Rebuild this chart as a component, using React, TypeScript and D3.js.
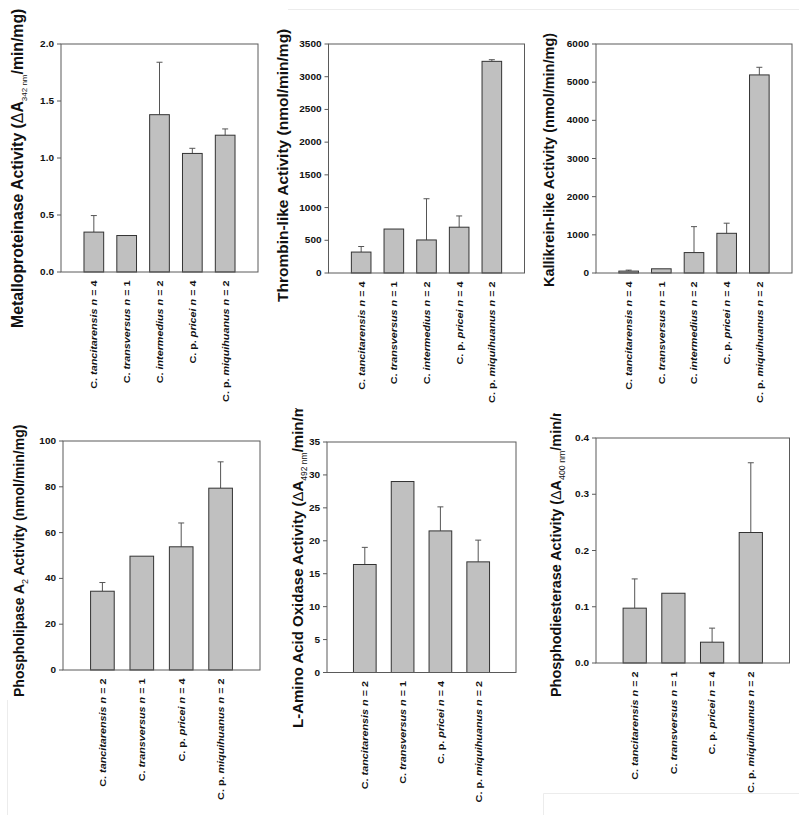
import React from "react";
import * as d3 from "d3";

// ---------- data ----------
const speciesTop = ["C. tancitarensis", "C. transversus", "C. intermedius", "C. p. pricei", "C. p. miquihuanus"];
const nTop = [4, 1, 2, 4, 2];
const speciesBottom = ["C. tancitarensis", "C. transversus", "C. p. pricei", "C. p. miquihuanus"];
const nBottom = [2, 1, 4, 2];

const mpMeans = [0.35, 0.32, 1.38, 1.04, 1.2];
const mpErr = [0.145, 0, 0.46, 0.045, 0.055];
const mpTicks = [0, 0.5, 1.0, 1.5, 2.0];

const thrMeans = [320, 672, 505, 700, 3235];
const thrErr = [85, 0, 630, 172, 25];
const thrTicks = [0, 500, 1000, 1500, 2000, 2500, 3000, 3500];

const kalMeans = [50, 110, 535, 1040, 5190];
const kalErr = [25, 0, 680, 265, 200];
const kalTicks = [0, 1000, 2000, 3000, 4000, 5000, 6000];

const plaMeans = [34.4, 49.7, 53.8, 79.4];
const plaErr = [3.8, 0, 10.4, 11.5];
const plaTicks = [0, 20, 40, 60, 80, 100];

const laaoMeans = [16.4, 29.0, 21.5, 16.8];
const laaoErr = [2.6, 0, 3.65, 3.3];
const laaoTicks = [0, 5, 10, 15, 20, 25, 30, 35];

const pdeMeans = [0.0975, 0.124, 0.037, 0.232];
const pdeErr = [0.052, 0, 0.025, 0.124];
const pdeTicks = [0, 0.1, 0.2, 0.3, 0.4];

type Part = { t: string; sub?: boolean; sym?: boolean };
const mpLabel: Part[] = [{ t: "Metalloproteinase Activity (" }, { t: "Δ", sym: true }, { t: "A" }, { t: "342 nm", sub: true }, { t: "/min/mg)" }];
const thrLabel: Part[] = [{ t: "Thrombin-like Activity (nmol/min/mg)" }];
const kalLabel: Part[] = [{ t: "Kallikrein-like Activity (nmol/min/mg)" }];
const plaLabel: Part[] = [{ t: "Phospholipase A" }, { t: "2", sub: true }, { t: " Activity (nmol/min/mg)" }];
const laaoLabel: Part[] = [{ t: "L-Amino Acid Oxidase Activity (" }, { t: "Δ", sym: true }, { t: "A" }, { t: "492 nm", sub: true }, { t: "/min/mg)" }];
const pdeLabel: Part[] = [{ t: "Phosphodiesterase Activity (" }, { t: "Δ", sym: true }, { t: "A" }, { t: "400 nm", sub: true }, { t: "/min/mg)" }];

// ---------- layout ----------
const FONT = "'Liberation Sans', Arial, Helvetica, sans-serif";
const CAT_SQUASH = 0.76;
const TICK_SQUASH = 0.86;

type Layout = {
  left: number; top: number; right: number; bottom: number;
  labelX: number; labelBottom: number; labelFont: number; subFont: number; clipTop?: number;
};

function CatLabel({ x, y, name, n }: { x: number; y: number; name: string; n: number }) {
  const m = name.match(/^([A-Z]\. (?:[a-z]\. )?)(.*)$/);
  const pre = m ? m[1] : "";
  const sp = m ? m[2] : name;
  return (
    <text
      transform={`translate(${x},${y}) rotate(-90) scale(1,${CAT_SQUASH})`}
      textAnchor="end"
      dy="0.35em"
      fontSize={10.8}
      fontWeight="bold"
      fill="#111"
      style={{ whiteSpace: "pre" }}
    >
      <tspan>{pre}</tspan>
      <tspan fontStyle="italic">{sp}</tspan>
      <tspan> </tspan>
      <tspan fontStyle="italic">n</tspan>
      <tspan>{` = ${n}`}</tspan>
    </text>
  );
}

function Panel({
  id, lay, means, errs, ticks, fmt, names, ns, label,
}: {
  id: string; lay: Layout; means: number[]; errs: number[]; ticks: number[];
  fmt: (v: number) => string; names: string[]; ns: number[]; label: Part[];
}) {
  const x = d3.scaleLinear().domain([0, means.length + 1]).range([lay.left, lay.right]);
  const y = d3.scaleLinear().domain([ticks[0], ticks[ticks.length - 1]]).range([lay.bottom, lay.top]);
  const step = x(1) - x(0);
  const bw = step * 0.6;
  const cap = 3;
  const frame = "#5a5a5a";
  const subShift = lay.labelFont * 0.28;
  return (
    <g>
      {lay.clipTop !== undefined && (
        <clipPath id={`clip-${id}`}>
          <rect x={lay.labelX - 20} y={lay.clipTop} width={40} height={400} />
        </clipPath>
      )}
      {means.map((v, i) => {
        const cx = x(i + 1);
        return (
          <g key={i}>
            {errs[i] > 0 && (
              <g stroke="#555" strokeWidth={1}>
                <line x1={cx} x2={cx} y1={y(v)} y2={y(v + errs[i])} />
                <line x1={cx - cap} x2={cx + cap} y1={y(v + errs[i])} y2={y(v + errs[i])} />
              </g>
            )}
            <rect x={cx - bw / 2} y={y(v)} width={bw} height={y(0) - y(v)} fill="#c0c0c0" stroke="#333" strokeWidth={1} />
          </g>
        );
      })}
      <rect x={lay.left} y={lay.top} width={lay.right - lay.left} height={lay.bottom - lay.top} fill="none" stroke={frame} strokeWidth={1} />
      {ticks.map((t, i) => (
        <g key={i}>
          <line x1={lay.left - 4} x2={lay.left} y1={y(t)} y2={y(t)} stroke={frame} strokeWidth={1} />
          <text
            transform={`translate(${lay.left - 7},${y(t)}) scale(1,${TICK_SQUASH})`}
            dy="0.35em"
            textAnchor="end"
            fontSize={10}
            fontWeight="bold"
            fill="#111"
          >
            {fmt(t)}
          </text>
        </g>
      ))}
      {names.map((nm, i) => (
        <CatLabel key={i} x={x(i + 1) + 0.5} y={lay.bottom + 8.5} name={nm} n={ns[i]} />
      ))}
      <g clipPath={lay.clipTop !== undefined ? `url(#clip-${id})` : undefined}>
        <text
          transform={`translate(${lay.labelX},${lay.labelBottom}) rotate(-90)`}
          textAnchor="start"
          dy="0.35em"
          fontSize={lay.labelFont}
          fontWeight="bold"
          fill="#111"
          style={{ whiteSpace: "pre" }}
        >
          {label.map((p, i) => {
            const prevSub = i > 0 && label[i - 1].sub;
            if (p.sub) {
              return (
                <tspan key={i} fontSize={lay.subFont} fontWeight="normal" dy={subShift}>
                  {p.t}
                </tspan>
              );
            }
            return (
              <tspan key={i} dy={prevSub ? -subShift : undefined} fontWeight={p.sym ? "normal" : "bold"}>
                {p.t}
              </tspan>
            );
          })}
        </text>
      </g>
    </g>
  );
}

const f1 = d3.format(".1f");
const f0 = d3.format("d");

export default function App() {
  return (
    <svg
      width={799}
      height={815}
      style={{ position: "absolute", left: 0, top: 0, background: "#fff" }}
      fontFamily={FONT}
    >
      <rect x={0} y={0} width={799} height={815} fill="#fff" />
      <line x1={288} x2={799} y1={9.5} y2={9.5} stroke="#ececec" strokeWidth={1} />
      <line x1={7.5} x2={7.5} y1={700} y2={815} stroke="#ececec" strokeWidth={1} />
      <polyline points="543.5,815 543.5,793.5 799,793.5" fill="none" stroke="#ececec" strokeWidth={1} />

      <Panel id="mp" lay={{ left: 61, top: 44, right: 258, bottom: 272, labelX: 17.5, labelBottom: 328, labelFont: 15.8, subFont: 8 }}
        means={mpMeans} errs={mpErr} ticks={mpTicks} fmt={f1} names={speciesTop} ns={nTop} label={mpLabel} />
      <Panel id="thr" lay={{ left: 328.5, top: 44, right: 524.5, bottom: 273, labelX: 282.5, labelBottom: 302, labelFont: 15.5, subFont: 8 }}
        means={thrMeans} errs={thrErr} ticks={thrTicks} fmt={f0} names={speciesTop} ns={nTop} label={thrLabel} />
      <Panel id="kal" lay={{ left: 596, top: 44, right: 792, bottom: 273, labelX: 549, labelBottom: 287, labelFont: 14.5, subFont: 8 }}
        means={kalMeans} errs={kalErr} ticks={kalTicks} fmt={f0} names={speciesTop} ns={nTop} label={kalLabel} />
      <Panel id="pla" lay={{ left: 63, top: 441, right: 260, bottom: 670, labelX: 19, labelBottom: 697, labelFont: 14, subFont: 9 }}
        means={plaMeans} errs={plaErr} ticks={plaTicks} fmt={f0} names={speciesBottom} ns={nBottom} label={plaLabel} />
      <Panel id="laao" lay={{ left: 327, top: 442, right: 516, bottom: 672.5, labelX: 298, labelBottom: 728, labelFont: 15, subFont: 8.5, clipTop: 408 }}
        means={laaoMeans} errs={laaoErr} ticks={laaoTicks} fmt={f0} names={speciesBottom} ns={nBottom} label={laaoLabel} />
      <Panel id="pde" lay={{ left: 596, top: 438, right: 789.5, bottom: 663, labelX: 556, labelBottom: 697, labelFont: 14.4, subFont: 8.8, clipTop: 413 }}
        means={pdeMeans} errs={pdeErr} ticks={pdeTicks} fmt={f1} names={speciesBottom} ns={nBottom} label={pdeLabel} />
    </svg>
  );
}
